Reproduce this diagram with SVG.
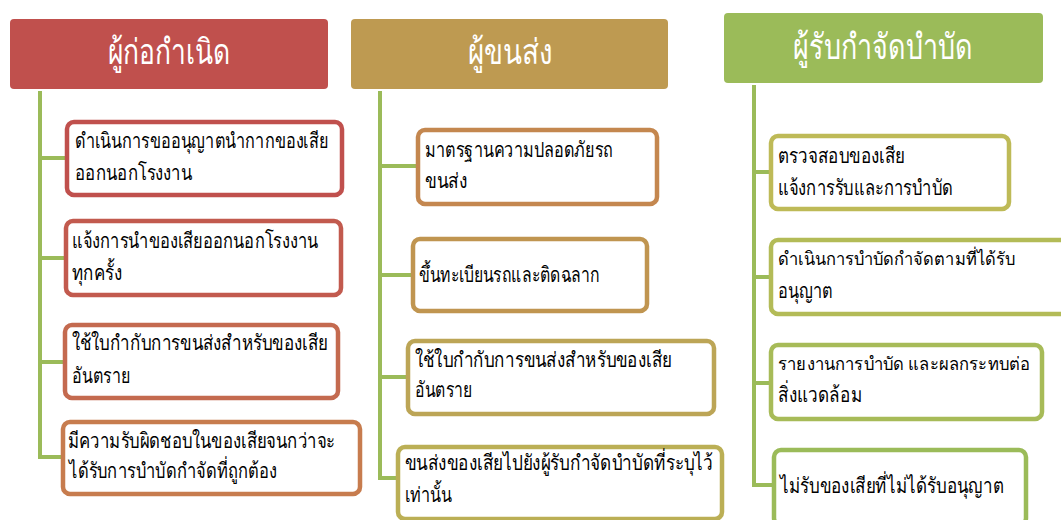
<svg xmlns="http://www.w3.org/2000/svg" width="1061" height="520" viewBox="0 0 1061 520">
<style>
.hd{font-family:"Liberation Serif","Noto Sans",serif;font-size:35px;fill:#fff;text-anchor:middle}
.t{font-family:"Liberation Serif","Noto Sans",serif;font-size:21px;fill:#000}
.s{font-size:18px}
.bx{fill:#fff;stroke-width:4.5}
.ln{stroke:#9BBB59;stroke-width:4;fill:none}
</style>
<rect width="1061" height="520" fill="#fff"/>
<g id="connectors">
<path class="ln" d="M40 91V459M40 158H66M40 258H65M40 362H64M40 457H62"/>
<path class="ln" d="M380 91V480M380 166H417M380 275H412M380 377H407M380 478H397"/>
<path class="ln" d="M754 85V487M754 172H770M754 277H770M754 383H770M754 485H773"/>
</g>
<g id="h1"><rect x="10" y="19" width="318" height="70" rx="4" fill="#C0504D"/><text class="hd" x="169" y="64" textLength="123" lengthAdjust="spacingAndGlyphs">ผู้ก่อกำเนิด</text></g>
<g id="h2"><rect x="351" y="19" width="317" height="70" rx="4" fill="#BE9A51"/><text class="hd" x="510" y="64" textLength="85" lengthAdjust="spacingAndGlyphs">ผู้ขนส่ง</text></g>
<g id="h3"><rect x="724" y="13" width="319" height="70" rx="4" fill="#9BBB59"/><text class="hd" x="883" y="59" textLength="180" lengthAdjust="spacingAndGlyphs">ผู้รับกำจัดบำบัด</text></g>

<g id="a1"><rect class="bx" x="67" y="122" width="275" height="73" rx="7" stroke="#C0504D"/><text class="t" x="75" y="148" textLength="253" lengthAdjust="spacingAndGlyphs">ดำเนินการขออนุญาตนำกากของเสีย</text><text class="t" x="75" y="180" textLength="117" lengthAdjust="spacingAndGlyphs">ออกนอกโรงงาน</text></g>
<g id="a2"><rect class="bx" x="66" y="221" width="275" height="74" rx="7" stroke="#C25A4E"/><text class="t" x="72" y="248" textLength="246" lengthAdjust="spacingAndGlyphs">แจ้งการนำของเสียออกนอกโรงงาน</text><text class="t" x="72" y="280" textLength="50" lengthAdjust="spacingAndGlyphs">ทุกครั้ง</text></g>
<g id="a3"><rect class="bx" x="65" y="325" width="273" height="73" rx="7" stroke="#C46A4F"/><text class="t" x="72" y="350" textLength="256" lengthAdjust="spacingAndGlyphs">ใช้ใบกำกับการขนส่งสำหรับของเสีย</text><text class="t" x="72" y="383" textLength="58" lengthAdjust="spacingAndGlyphs">อันตราย</text></g>
<g id="a4"><rect class="bx" x="63" y="422" width="297" height="72" rx="7" stroke="#C77C4E"/><text class="t" x="68" y="448" textLength="267" lengthAdjust="spacingAndGlyphs">มีความรับผิดชอบในของเสียจนกว่าจะ</text><text class="t" x="69" y="478" textLength="208" lengthAdjust="spacingAndGlyphs">ได้รับการบำบัดกำจัดที่ถูกต้อง</text></g>

<g id="b1"><rect class="bx" x="418" y="130" width="239" height="74" rx="7" stroke="#C4874F"/><text class="t" x="425" y="157" textLength="188" lengthAdjust="spacingAndGlyphs">มาตรฐานความปลอดภัยรถ</text><text class="t" x="425" y="188" textLength="42" lengthAdjust="spacingAndGlyphs">ขนส่ง</text></g>
<g id="b2"><rect class="bx" x="413" y="239" width="234" height="72" rx="7" stroke="#C09550"/><text class="t" x="419" y="282" textLength="181" lengthAdjust="spacingAndGlyphs">ขึ้นทะเบียนรถและติดฉลาก</text></g>
<g id="b3"><rect class="bx" x="408" y="341" width="306" height="73" rx="7" stroke="#BCA556"/><text class="t" x="415" y="367" textLength="257" lengthAdjust="spacingAndGlyphs">ใช้ใบกำกับการขนส่งสำหรับของเสีย</text><text class="t" x="415" y="397" textLength="57" lengthAdjust="spacingAndGlyphs">อันตราย</text></g>
<g id="b4"><rect class="bx" x="398" y="447" width="324" height="72" rx="7" stroke="#BBAF55"/><text class="t" x="405" y="470" textLength="308" lengthAdjust="spacingAndGlyphs">ขนส่งของเสียไปยังผู้รับกำจัดบำบัดที่ระบุไว้</text><text class="t" x="405" y="502" textLength="47" lengthAdjust="spacingAndGlyphs">เท่านั้น</text></g>

<g id="c1"><rect class="bx" x="771" y="136" width="238" height="73" rx="7" stroke="#BEBA57"/><text class="t" x="778" y="163" textLength="127" lengthAdjust="spacingAndGlyphs">ตรวจสอบของเสีย</text><text class="t" x="778" y="195" textLength="175" lengthAdjust="spacingAndGlyphs">แจ้งการรับและการบำบัด</text></g>
<g id="c2"><rect class="bx" x="771" y="240" width="300" height="74" rx="7" stroke="#B3BB57"/><text class="t s" x="778" y="265" textLength="237" lengthAdjust="spacingAndGlyphs">ดำเนินการบำบัดกำจัดตามที่ได้รับ</text><text class="t" x="778" y="298" textLength="55" lengthAdjust="spacingAndGlyphs">อนุญาต</text></g>
<g id="c3"><rect class="bx" x="771" y="345" width="271" height="74" rx="7" stroke="#A7BB58"/><text class="t s" x="778" y="370" textLength="252" lengthAdjust="spacingAndGlyphs">รายงานการบำบัด และผลกระทบต่อ</text><text class="t" x="778" y="402" textLength="84" lengthAdjust="spacingAndGlyphs">สิ่งแวดล้อม</text></g>
<g id="c4"><rect class="bx" x="774" y="450" width="252" height="75" rx="7" stroke="#9BBB59"/><text class="t" x="780" y="493" textLength="224" lengthAdjust="spacingAndGlyphs">ไม่รับของเสียที่ไม่ได้รับอนุญาต</text></g>
</svg>
